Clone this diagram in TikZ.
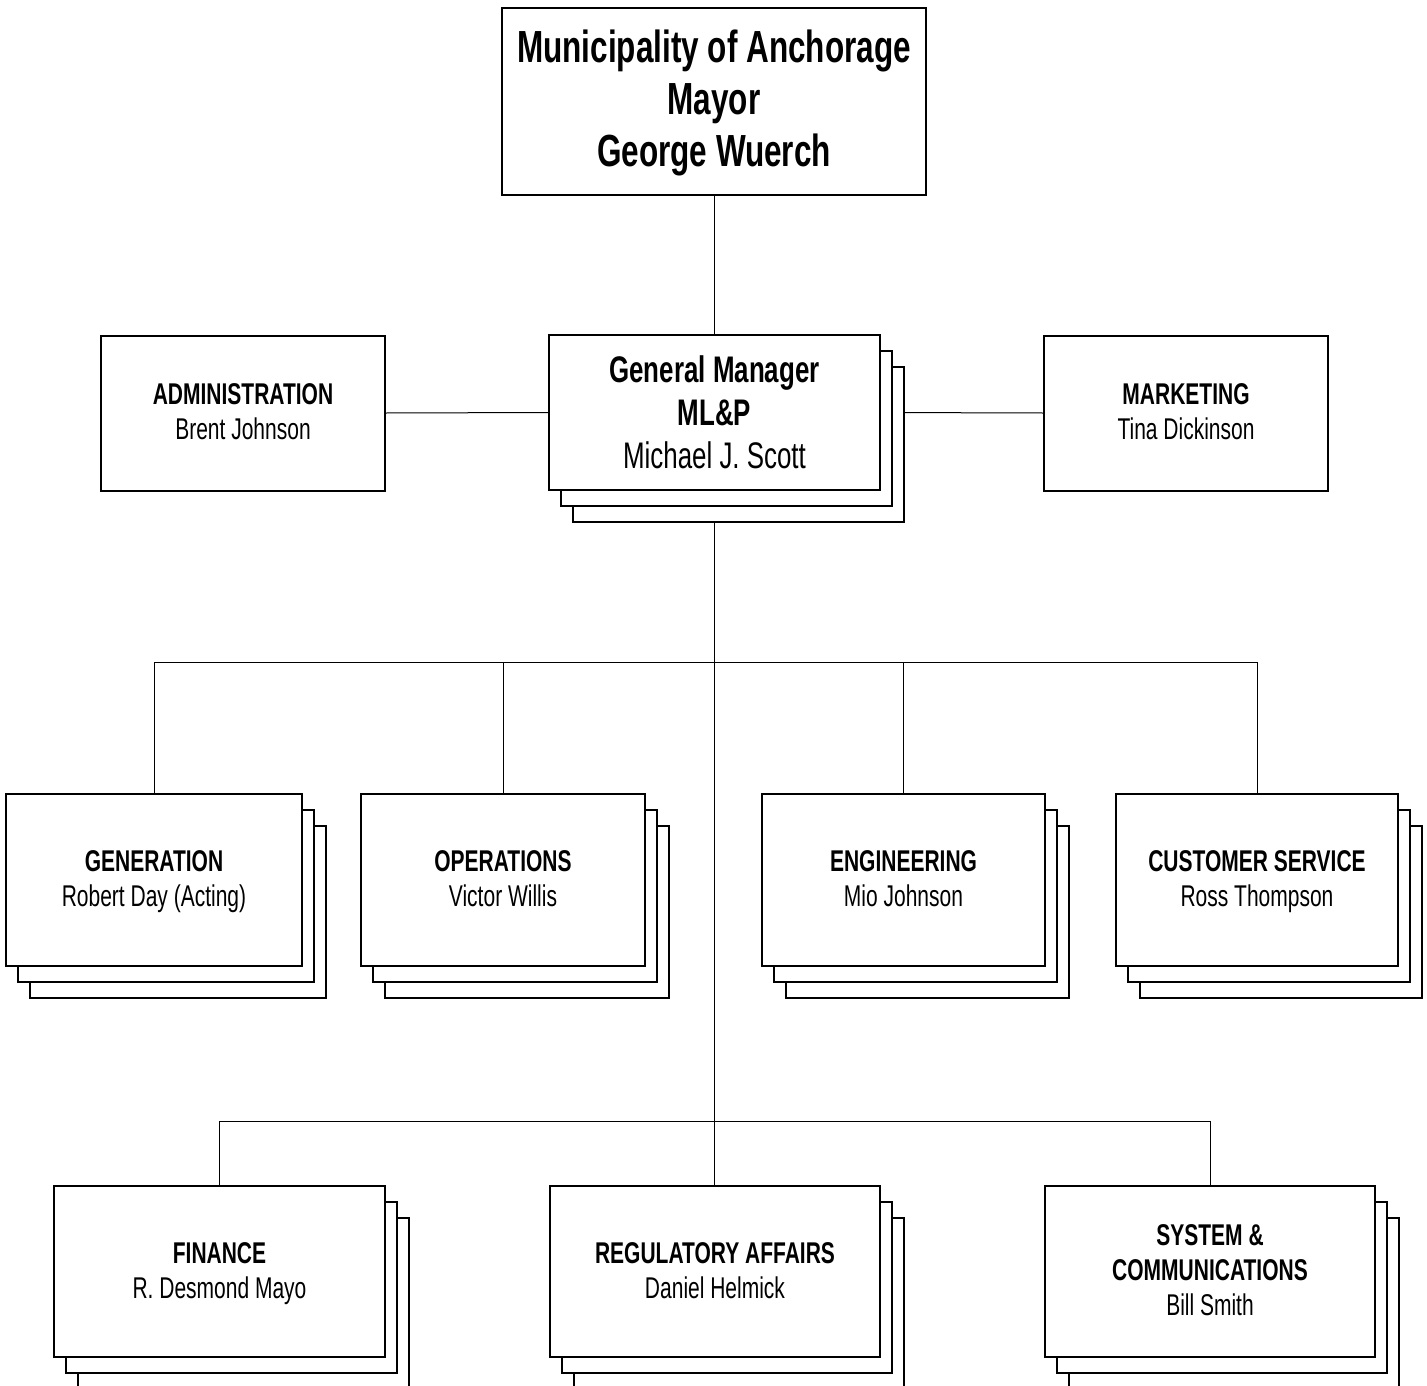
\documentclass[tikz,border=0pt]{standalone}
\usepackage{fontspec}
\setmainfont{Liberation Sans}[FakeStretch=0.70]
\usetikzlibrary{shadows,backgrounds}
\tikzset{
  box/.style={draw=black, line width=2pt, fill=white, align=center, inner sep=0pt},
  stackbox/.style={box,
    general shadow={draw=black, fill=white, line width=2pt, shadow xshift=24pt, shadow yshift=-32pt},
    general shadow={draw=black, fill=white, line width=2pt, shadow xshift=12pt, shadow yshift=-16pt}},
  unitbox/.style={box, minimum width=284pt, minimum height=155pt},
  lvl/.style={font=\fontsize{30}{35}\selectfont, text depth=2pt},
  conn/.style={draw=black, line width=1pt}
}
\begin{document}
\begin{tikzpicture}[x=1pt,y=-1pt]
\useasboundingbox (0,0) rectangle (1427,1386);
% top
\node[box, minimum width=424pt, minimum height=187pt, font=\fontsize{45}{52}\selectfont\bfseries] (top) at (714,101.5)
  {\raisebox{-1.5pt}[\height][\depth]{\parbox{420pt}{\centering Municipality of Anchorage\\Mayor\\George Wuerch}}};
% second row
\node[unitbox, lvl] (admin) at (243,413) {\textbf{ADMINISTRATION}\\Brent Johnson};
\node[stackbox, minimum width=331pt, minimum height=155pt, font=\fontsize{37}{43}\selectfont] (gm) at (714.5,412.5)
  {\textbf{General Manager}\\\textbf{ML\&P}\\Michael J. Scott};
\node[unitbox, lvl] (mkt) at (1186,413) {\textbf{MARKETING}\\Tina Dickinson};
% third row
\node[stackbox, lvl, minimum width=296pt, minimum height=172pt] (gen) at (154,880) {\textbf{GENERATION}\\Robert Day (Acting)};
\node[stackbox, lvl, minimum width=284pt, minimum height=172pt] (ops) at (503,880) {\textbf{OPERATIONS}\\Victor Willis};
\node[stackbox, lvl, minimum width=283pt, minimum height=172pt] (eng) at (903.5,880) {\textbf{ENGINEERING}\\Mio Johnson};
\node[stackbox, lvl, minimum width=282pt, minimum height=172pt] (cs) at (1257,880) {\textbf{CUSTOMER SERVICE}\\Ross Thompson};
% fourth row
\node[stackbox, lvl, minimum width=331pt, minimum height=171pt] (fin) at (219.5,1271.5) {\textbf{FINANCE}\\R. Desmond Mayo};
\node[stackbox, lvl, minimum width=330pt, minimum height=171pt] (reg) at (715,1271.5) {\textbf{REGULATORY AFFAIRS}\\Daniel Helmick};
\node[stackbox, lvl, minimum width=330pt, minimum height=171pt] (sys) at (1210,1271.5) {\textbf{SYSTEM \&}\\\textbf{COMMUNICATIONS}\\Bill Smith};
\coordinate (bus1) at (714,662);
\coordinate (bus2) at (714,1121);
\begin{scope}[on background layer]
  \draw[conn] (top.south) -- (top.south |- gm.north);
  \draw[conn] (admin.east) -- (gm.west);
  \draw[conn] (gm.east) -- (mkt.west);
  \draw[conn] (gm.south -| top.south) -- (top.south |- reg.north);
  \draw[conn] (gen.north) -- (gen.north |- bus1) -- (cs.north |- bus1) -- (cs.north);
  \draw[conn] (ops.north) -- (ops.north |- bus1);
  \draw[conn] (eng.north) -- (eng.north |- bus1);
  \draw[conn] (fin.north) -- (fin.north |- bus2) -- (sys.north |- bus2) -- (sys.north);
\end{scope}
\end{tikzpicture}
\end{document}
